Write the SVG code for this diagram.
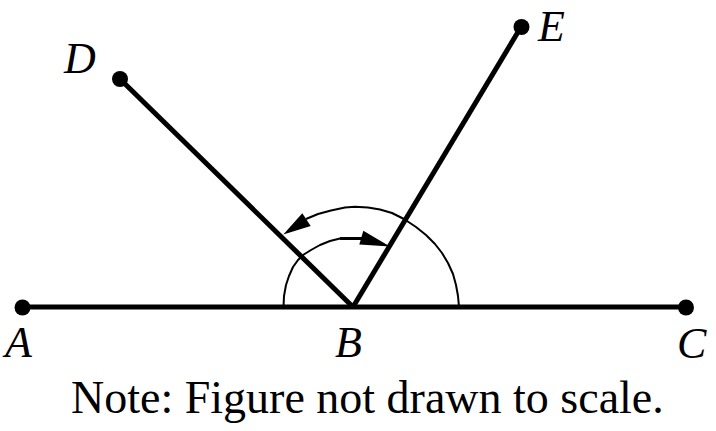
<svg xmlns="http://www.w3.org/2000/svg" width="716" height="431" viewBox="0 0 716 431">
<style>
.ray{stroke:#000;stroke-width:5;fill:none;stroke-linecap:butt}
.arc{stroke:#000;stroke-width:2;fill:none;stroke-linejoin:round}
.dot{fill:#000}
.lbl{font-family:"Liberation Serif","Times New Roman",serif;font-style:italic;font-size:44px;fill:#000}
.note{font-family:"Liberation Serif","Times New Roman",serif;font-size:46px;fill:#000}
.head{fill:#000;stroke:none}
</style>
<rect width="716" height="431" fill="#fff"/>
<g id="connectors">
<line class="ray" x1="22" y1="307" x2="686" y2="307"/>
<line class="ray" x1="120" y1="79" x2="353" y2="307"/>
<line class="ray" x1="521" y1="27" x2="353" y2="307"/>
</g>
<g id="arcs">
<polyline class="arc" points="306,219 318,214 331,210.5 345,207.5 355,206.7 368,207.5 380,209.5 392,213 404,219 416,227 426,235 435,244 442,253 448,263 453,274 456,285 458,296 459,307"/>
<polygon class="head" points="283.3,234.5 302.3,213.3 310.7,226"/>
<polyline class="arc" points="283.5,307 284,296 286,285 289,276 293,267 298,260 303,255 311,250 320,245 330,241 340,238.5 364,238.5"/>
<line x1="340" y1="238.5" x2="364" y2="238.5" stroke="#000" stroke-width="3"/>
<polygon class="head" points="363.3,230.7 359.3,244.5 390,246.5"/>
</g>
<g id="A"><circle class="dot" cx="22.5" cy="307.5" r="8"/><text class="lbl" x="5" y="357">A</text></g>
<g id="B"><text class="lbl" x="335" y="357">B</text></g>
<g id="C"><circle class="dot" cx="686" cy="307.5" r="8"/><text class="lbl" x="677" y="358">C</text></g>
<g id="D"><circle class="dot" cx="120" cy="79" r="8"/><text class="lbl" x="64" y="73">D</text></g>
<g id="E"><circle class="dot" cx="521.5" cy="27" r="8"/><text class="lbl" x="538" y="41">E</text></g>
<text class="note" x="71" y="413">Note: Figure not drawn to scale.</text>
</svg>
